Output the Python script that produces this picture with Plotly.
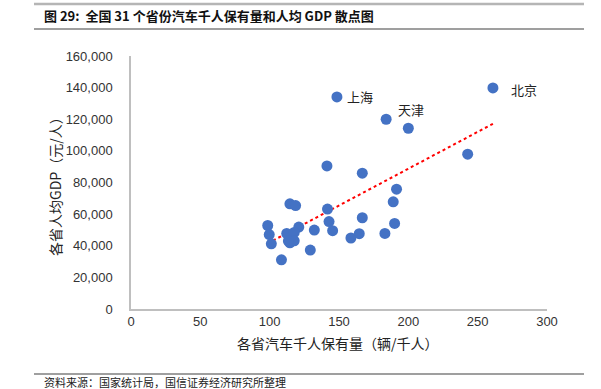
import numpy as np
import plotly.graph_objects as go

# Car ownership per 1000 people (x) and GDP per capita (y) for 31 provinces
car_per_1000 = [261, 148.5, 184, 200, 242.8, 141.3, 166.8, 191.5, 189.1, 141.7,
                142.8, 166.8, 98.6, 99.7, 101.2, 108.5, 114.6, 118.7, 112.3, 121,
                117.7, 114.6, 117.7, 113.5, 132.2, 129.3, 145.4, 158.6, 164.6, 183.1, 190.1]
gdp_per_capita = [139800, 134100, 120000, 114300, 97900, 90500, 85900, 75800, 67800, 63200,
                  55300, 57700, 52800, 47100, 41200, 31100, 66500, 65400, 47800, 51800,
                  48400, 41900, 43100, 43000, 49900, 37300, 49500, 44900, 47600, 47800, 54100]
labels = ["北京", "上海", "天津"] + [""] * 28

x_ticks = [0, 50, 100, 150, 200, 250, 300]
y_ticks = [0, 20000, 40000, 60000, 80000, 100000, 120000, 140000, 160000]

title_text = "图 29:  全国 31 个省份汽车千人保有量和人均 GDP 散点图"
source_text = "资料来源：国家统计局，国信证券经济研究所整理"
x_title = "各省汽车千人保有量（辆/千人）"
y_title = "各省人均GDP（元/人）"

cjk = "Noto Sans CJK SC"
num_font = "Liberation Sans, Arial, sans-serif"

W, H = 601, 389
PL, PR, PT, PB = 131, 547, 56, 309   # plot area edges in pixels


def fx(p):
    return p / W


def fy(p):
    return 1 - p / H


xs = np.array(car_per_1000)
ys = np.array(gdp_per_capita)
slope, intercept = np.polyfit(xs, ys, 1)
tx = np.array([xs.min(), xs.max()])
ty = slope * tx + intercept

fig = go.Figure()

fig.add_trace(go.Scatter(x=tx, y=ty, mode="lines",
                         line=dict(color="#FF0000", width=2, dash="dot"),
                         hoverinfo="skip", showlegend=False))
fig.add_trace(go.Scatter(x=car_per_1000, y=gdp_per_capita, mode="markers",
                         marker=dict(color="#4472C4", size=11),
                         showlegend=False))

# data labels
label_offsets = {"北京": (16, 2), "上海": (8, 0), "天津": (10, -10)}
for xv, yv, lab in zip(car_per_1000, gdp_per_capita, labels):
    if lab:
        dx, dy = label_offsets[lab]
        fig.add_annotation(x=xv, y=yv, text=lab, showarrow=False,
                           xanchor="left", yanchor="middle", xshift=dx, yshift=-dy,
                           font=dict(family=cjk, size=13, color="#222222"))

fig.update_layout(
    width=W, height=H,
    margin=dict(l=0, r=0, t=0, b=0, autoexpand=False),
    paper_bgcolor="white", plot_bgcolor="white",
    xaxis=dict(domain=[fx(PL), fx(PR)], range=[0, 300], tickvals=x_ticks,
               ticktext=[str(v) for v in x_ticks],
               showgrid=False, zeroline=False, showline=True, linecolor="#BFBFBF",
               linewidth=1.5, ticks="", tickfont=dict(family=num_font, size=13, color="#333333")),
    yaxis=dict(domain=[fy(PB), fy(PT)], range=[0, 160000], tickvals=y_ticks,
               ticktext=[f"{v:,}" for v in y_ticks],
               showgrid=False, zeroline=False, showline=True, linecolor="#BFBFBF",
               linewidth=1.5, ticks="", ticklabelstandoff=14,
               tickfont=dict(family=num_font, size=13, color="#333333")),
)

# page rules (header / footer)
for yy, w, col in [(4, 2.5, "#B5B5B5"), (29, 1.5, "#7F7F7F"), (374, 1.5, "#7F7F7F")]:
    fig.add_shape(type="rect", xref="paper", yref="paper", layer="above",
                  x0=fx(34), x1=fx(584), y0=fy(yy - w / 2), y1=fy(yy + w / 2),
                  line=dict(width=0), fillcolor=col)

# axis titles
fig.add_annotation(xref="paper", yref="paper", x=fx(338), y=fy(343),
                   xanchor="center", yanchor="middle", text=x_title, showarrow=False,
                   font=dict(family=cjk, size=14, color="#222222"))
fig.add_annotation(xref="paper", yref="paper", x=fx(55), y=fy(183),
                   xanchor="center", yanchor="middle", text=y_title, showarrow=False,
                   textangle=-90, font=dict(family=cjk, size=14, color="#222222"))

fig.add_annotation(xref="paper", yref="paper", x=fx(42), y=fy(16), xanchor="left", yanchor="middle",
                   text="<b>" + title_text + "</b>", showarrow=False,
                   font=dict(family=cjk, size=13, color="#111111"))
fig.add_annotation(xref="paper", yref="paper", x=fx(42), y=fy(382), xanchor="left", yanchor="middle",
                   text=source_text, showarrow=False,
                   font=dict(family=cjk, size=11, color="#222222"))

fig.write_html("out.html", config={"displayModeBar": False},
               post_script="document.body.style.margin='0';document.body.style.overflow='hidden';")
